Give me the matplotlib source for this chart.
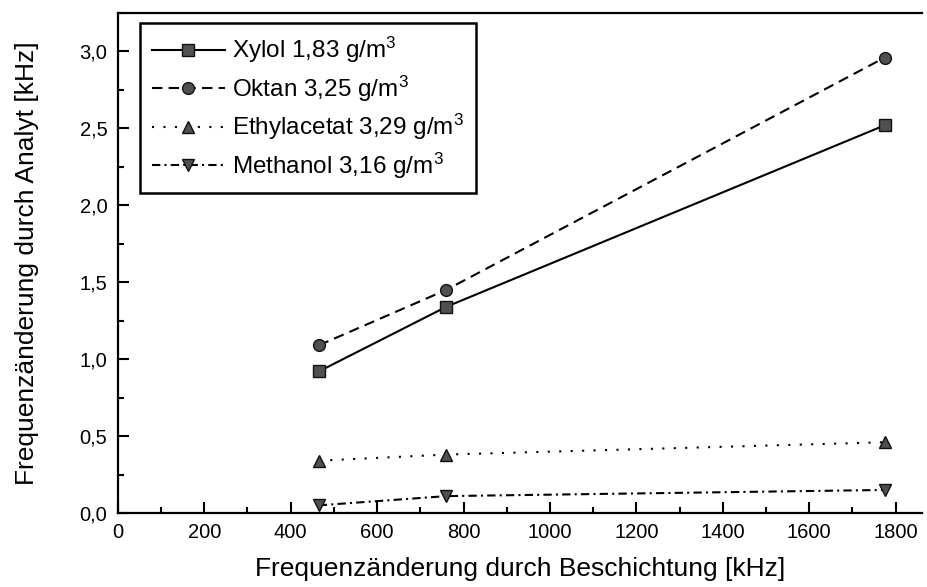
import matplotlib
matplotlib.use("Agg")
import matplotlib.pyplot as plt
from matplotlib.ticker import MultipleLocator, FuncFormatter

plt.rcParams['font.family'] = ['Liberation Sans', 'DejaVu Sans']
plt.rcParams['mathtext.fontset'] = 'custom'
plt.rcParams['mathtext.rm'] = 'Liberation Sans'
plt.rcParams['mathtext.it'] = 'Liberation Sans'

# Frequenzänderung durch Beschichtung [kHz]
coating = [465, 760, 1775]

# Frequenzänderung durch Analyt [kHz]
xylol = [0.92, 1.34, 2.52]
oktan = [1.09, 1.45, 2.96]
ethylacetat = [0.34, 0.38, 0.46]
methanol = [0.05, 0.11, 0.15]

labels = [r'Xylol 1,83 g/m$^3$', r'Oktan 3,25 g/m$^3$',
          r'Ethylacetat 3,29 g/m$^3$', r'Methanol 3,16 g/m$^3$']

fig = plt.figure(figsize=(9.28, 5.87), dpi=100)
ax = fig.add_axes([0.127, 0.126, 0.866, 0.852])

mk = dict(color='black', markerfacecolor='#505050', markeredgecolor='#111111',
          markersize=8.5, linewidth=1.5)
ax.plot(coating, xylol, linestyle='-', marker='s', label=labels[0], **mk)
ax.plot(coating, oktan, linestyle=(0, (5, 3)), marker='o', label=labels[1], **mk)
ax.plot(coating, ethylacetat, linestyle=(0, (1, 4.5)), marker='^', label=labels[2], **mk)
ax.plot(coating, methanol, linestyle=(0, (4, 2, 1, 2)), marker='v', label=labels[3], **mk)

ax.set_xlim(0, 1860)
ax.set_ylim(0, 3.25)
ax.xaxis.set_major_locator(MultipleLocator(200))
ax.xaxis.set_minor_locator(MultipleLocator(100))
ax.yaxis.set_major_locator(MultipleLocator(0.5))
ax.yaxis.set_minor_locator(MultipleLocator(0.25))
ax.yaxis.set_major_formatter(FuncFormatter(lambda v, p: f'{v:.1f}'.replace('.', ',')))

ax.tick_params(which='both', direction='in', width=1.5, labelsize=14.5, pad=7.5)
ax.tick_params(which='major', length=8)
ax.tick_params(which='minor', length=4)

for side in ['left', 'bottom', 'top']:
    ax.spines[side].set_linewidth(1.6)
ax.spines['right'].set_visible(False)

ax.set_xlabel('Frequenzänderung durch Beschichtung [kHz]', fontsize=19)
ax.set_ylabel('Frequenzänderung durch Analyt [kHz]', fontsize=19)
ax.xaxis.set_label_coords(0.5, -0.088)
ax.yaxis.set_label_coords(-0.098, 0.5)

leg = ax.legend(loc='upper left', bbox_to_anchor=(0.027, 0.98), fontsize=17.5,
                frameon=True, fancybox=False, edgecolor='black', framealpha=1,
                handlelength=3.0, labelspacing=0.34, borderpad=0.5,
                handletextpad=0.3, borderaxespad=0)
leg.get_frame().set_linewidth(1.8)

fig.savefig('out.png', dpi=100)
